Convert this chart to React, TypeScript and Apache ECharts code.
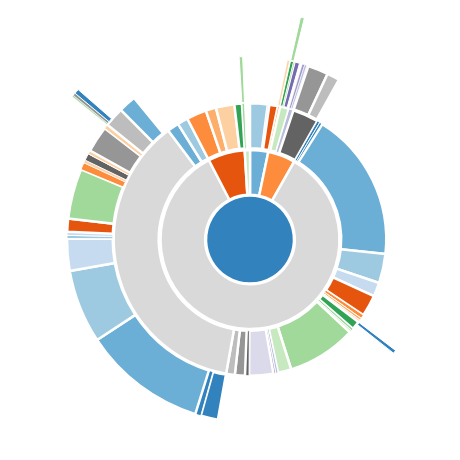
import React, { useEffect, useRef } from "react";
import * as echarts from "echarts";

// d3 category20c palette
const PAL: Record<string, string> = {
  b1: "#3182bd", b2: "#6baed6", b3: "#9ecae1", b4: "#c6dbef",
  o1: "#e6550d", o2: "#fd8d3c", o3: "#fdae6b", o4: "#fdd0a2",
  g1: "#31a354", g2: "#74c476", g3: "#a1d99b", g4: "#c7e9c0",
  p1: "#756bb1", p2: "#9e9ac8", p3: "#bcbddc", p4: "#dadaeb",
  k1: "#636363", k2: "#969696", k3: "#bdbdbd", k4: "#d9d9d9",
};

// ----- data (values are angular shares, total 360) -----
const rootValue = 360;
const rootColor = "b1";

// ring 1
const ring1Values = [11.8, 17.8, 303, 24, 3.4];
const ring1Colors = ["b2", "o2", "k4", "o1", "g4"];

// ring 2 (parent = index in ring 1)
const ring2Parents = [0, 0, 0, 1, 1, 1, 1, 2, 2, 2, 2, 2, 2, 2, 2, 2, 2, 2, 2, 2, 2, 2, 2, 2, 2, 2, 2, 2, 2, 2, 3, 3, 3, 3, 4];
const ring2Values = [7.5, 0.7, 3.6, 1.0, 3.8, 2.0, 11.0, 1.2, 1.3, 64, 12.5, 6, 9.1, 1.6, 1, 1, 3.6, 1, 1, 29.5, 5.7, 1, 1, 10.3, 1.7, 4.3, 3.7, 133, 5, 4.5, 8.5, 4.4, 7.9, 3.2, 1.1];
const ring2Colors = ["b3", "b4", "o1", "o3", "g4", "p3", "k1", "b1", "b1", "b2", "b3", "b4", "o1", "o2", "o3", "o4", "g1", "g3", "g4", "g3", "g4", "p3", "p2", "p4", "k1", "k2", "k3", "k4", "b2", "b3", "o2", "o3", "o4", "g1", "g3"];

// ring 3 (parent = index in ring 2)
const ring3Parents = [3, 4, 4, 4, 5, 5, 5, 6, 6, 16, 27, 27, 27, 27, 27, 27, 27, 27, 27, 27, 27, 27, 27, 27, 27, 27, 27, 34];
const ring3Values = [0.7, 1.0, 0.5, 1.4, 0.8, 0.7, 0.4, 6.5, 4.0, 1.1, 5.5, 1.8, 39.3, 23.4, 10.2, 1, 1.1, 4.2, 15.9, 2.3, 0.9, 2.2, 1.2, 8.3, 1.4, 6.3, 5.6, 1.1];
const ring3Colors = ["o4", "g1", "g3", "p1", "p2", "p3", "p4", "k2", "k3", "b1", "b1", "b1", "b2", "b3", "b4", "b3", "b4", "o1", "g3", "o2", "o4", "k1", "o4", "k2", "o4", "k3", "b2", "g3"];

// ring 4 (parent = index in ring 3)
const ring4Parents = [1, 25, 25, 25];
const ring4Values = [1.0, 0.4, 0.7, 1.2];
const ring4Colors = ["g3", "g3", "k2", "b1"];

function borderFor(v: number) {
  if (v >= 2.5) return 2.5;
  if (v >= 1) return 1;
  return 0.6;
}

function buildData() {
  const mk = (name: string, value: number, color: string): any => ({
    name,
    value,
    itemStyle: { color: PAL[color], borderWidth: borderFor(value) },
    children: [] as any[],
  });
  const r1 = ring1Values.map((v, i) => mk(`r1-${i}`, v, ring1Colors[i]));
  const r2 = ring2Values.map((v, i) => mk(`r2-${i}`, v, ring2Colors[i]));
  const r3 = ring3Values.map((v, i) => mk(`r3-${i}`, v, ring3Colors[i]));
  const r4 = ring4Values.map((v, i) => mk(`r4-${i}`, v, ring4Colors[i]));
  ring2Parents.forEach((p, i) => r1[p].children.push(r2[i]));
  ring3Parents.forEach((p, i) => r2[p].children.push(r3[i]));
  ring4Parents.forEach((p, i) => r3[p].children.push(r4[i]));
  const root = mk("root", rootValue, rootColor);
  root.itemStyle.borderWidth = 2.5;
  root.children = r1;
  const clean = (n: any) => {
    if (!n.children.length) delete n.children;
    else n.children.forEach(clean);
  };
  clean(root);
  return [root];
}

export default function App() {
  const ref = useRef<HTMLDivElement>(null);
  useEffect(() => {
    if (!ref.current) return;
    const chart = echarts.init(ref.current, undefined, { renderer: "svg" });
    chart.setOption({
      animation: false,
      backgroundColor: "#ffffff",
      series: [
        {
          type: "sunburst",
          center: [250, 239.5],
          radius: [0, 228],
          sort: null,
          startAngle: 90,
          clockwise: true,
          nodeClick: false,
          data: buildData(),
          label: { show: false },
          itemStyle: { borderColor: "#ffffff", borderWidth: 2.5 },
          emphasis: { disabled: true },
          levels: [
            {},
            { r0: 0, r: 44 },
            { r0: 44.75, r: 89.5 },
            { r0: 91.25, r: 136.25 },
            { r0: 137.25, r: 183 },
            { r0: 183.75, r: 228 },
          ],
        },
      ],
    });
    return () => chart.dispose();
  }, []);
  return (
    <div
      ref={ref}
      style={{ position: "absolute", left: 0, top: 0, width: 460, height: 460 }}
    />
  );
}
